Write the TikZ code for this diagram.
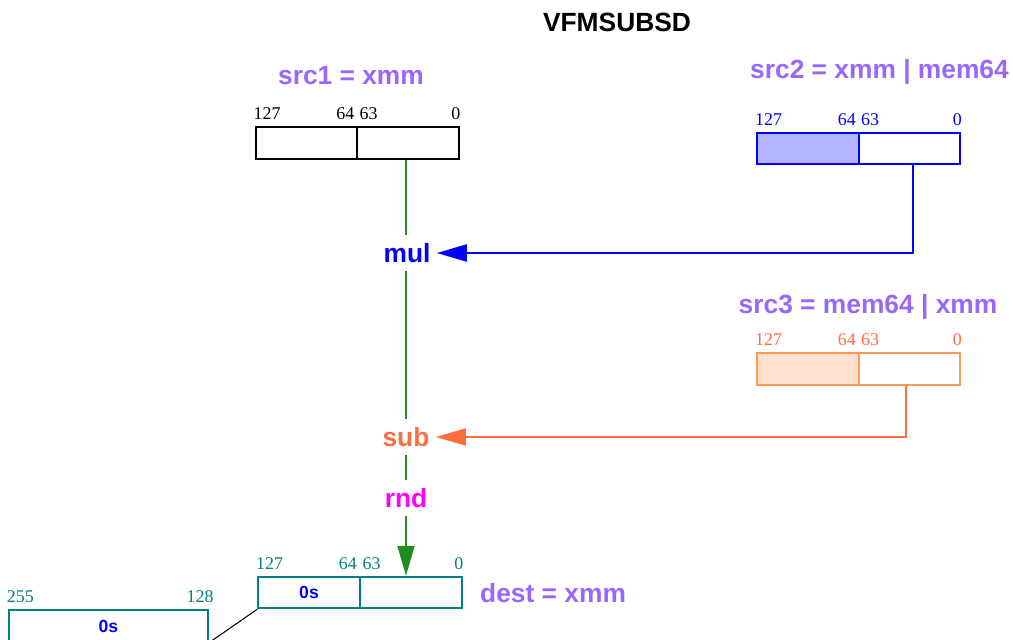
\documentclass[tikz,border=0pt]{standalone}
\usepackage{fontspec}
\setmainfont{Liberation Serif}
\setsansfont{Liberation Sans}
\usepackage{xcolor}
\usepackage{tikz}
\usetikzlibrary{arrows.meta, positioning}
\definecolor{softpurple}{HTML}{9966FF}
\definecolor{regblue}{HTML}{0000FF}
\definecolor{regbluefill}{HTML}{B3B3FF}
\definecolor{regorange}{HTML}{FF9955}
\definecolor{regorangefill}{HTML}{FFE0CC}
\definecolor{subcoral}{HTML}{FF6E40}
\definecolor{rndmagenta}{HTML}{FF00FF}
\definecolor{flowgreen}{HTML}{228B22}
\definecolor{destteal}{HTML}{008080}

\begin{document}
\begin{tikzpicture}[
x=0.02cm, y=-0.02cm,
every node/.style={font=\fontsize{15}{18}\selectfont\sffamily\bfseries},
arrow/.style={-{Triangle[length=0.6cm, width=0.34cm]}, line width=1.1pt}
]

% Define styles
\tikzstyle{half} = [rectangle, minimum width=2.03cm, minimum height=0.63cm, inner sep=0pt, line width=1.1pt]
\tikzstyle{wide} = [rectangle, minimum width=3.98cm, minimum height=0.63cm, inner sep=0pt, line width=1.1pt]
\tikzstyle{bit} = [font=\fontsize{10.2}{12}\selectfont\rmfamily\mdseries, inner xsep=0pt, inner ysep=0.12cm]
\tikzstyle{bitleft} = [bit, anchor=south west, xshift=-0.03cm]
\tikzstyle{bitmidl} = [bit, anchor=south east, xshift=-0.07cm]
\tikzstyle{bitmidr} = [bit, anchor=south west, xshift=0.06cm]
\tikzstyle{bitright} = [bit, anchor=south east, xshift=0.02cm]
\tikzstyle{op} = [inner xsep=0.12cm, inner ysep=0.15cm]
\tikzstyle{zeros} = [font=\fontsize{10}{12}\selectfont\sffamily\bfseries, text=regblue]

\useasboundingbox (0,0) rectangle (1013,639);
\clip (0,0) rectangle (1013,639);

% Nodes
\node (title) at (617,22) {VFMSUBSD};

\node (src1) [text=softpurple] at (351,76) {src1 = xmm};
\node (s1hi) [half, draw=black] at (306.5,143) {};
\node (s1lo) [half, draw=black] at (408,143) {};
\node [bitleft] at (s1hi.north west) {127};
\node [bitmidl] at (s1hi.north east) {64};
\node [bitmidr] at (s1lo.north west) {63};
\node [bitright] at (s1lo.north east) {0};

\node (src2) [text=softpurple] at (879.5,72) {src2 = xmm | mem64};
\node (s2hi) [half, draw=regblue, fill=regbluefill] at (808,148.5) {};
\node (s2lo) [half, draw=regblue] at (909.5,148.5) {};
\node [bitleft, text=regblue] at (s2hi.north west) {127};
\node [bitmidl, text=regblue] at (s2hi.north east) {64};
\node [bitmidr, text=regblue] at (s2lo.north west) {63};
\node [bitright, text=regblue] at (s2lo.north east) {0};

\node (src3) [text=softpurple] at (868,307) {src3 = mem64 | xmm};
\node (s3hi) [half, draw=regorange, fill=regorangefill] at (808,369) {};
\node (s3lo) [half, draw=regorange] at (909.5,369) {};
\node [bitleft, text=subcoral] at (s3hi.north west) {127};
\node [bitmidl, text=subcoral] at (s3hi.north east) {64};
\node [bitmidr, text=subcoral] at (s3lo.north west) {63};
\node [bitright, text=subcoral] at (s3lo.north east) {0};

\node (mul) [op, text=regblue] at (407,253) {mul};
\node (sub) [op, text=subcoral] at (406,437) {sub};
\node (rnd) [op, text=rndmagenta] at (406,498) {rnd};

\node (dhi) [half, draw=destteal] at (309,592.5) {};
\node (dlo) [half, draw=destteal] at (411,592.5) {};
\node [zeros] at (dhi) {0s};
\node [bitleft, text=destteal] at (dhi.north west) {127};
\node [bitmidl, text=destteal] at (dhi.north east) {64};
\node [bitmidr, text=destteal] at (dlo.north west) {63};
\node [bitright, text=destteal] at (dlo.north east) {0};
\node (dest) [text=softpurple, anchor=west] at (474,593) {dest = xmm};

\node (dup) [wide, draw=destteal] at (108.5,626) {};
\node [zeros] at (dup) {0s};
\node [bitleft, text=destteal] at (dup.north west) {255};
\node [bitright, text=destteal, xshift=0.08cm] at (dup.north east) {128};

% Arrows
\draw [flowgreen, line width=1.1pt] (sub |- s1lo.south) -- (sub |- mul.north);
\draw [flowgreen, line width=1.1pt] (sub |- mul.south) -- (sub);
\draw [flowgreen, line width=1.1pt] (sub) -- (rnd);
\draw [arrow, flowgreen] (rnd) -- (rnd |- dlo.north);
\draw [arrow, regblue] ([xshift=0.07cm]s2lo.south) |- (mul.east);
\draw [arrow, subcoral] ([xshift=-0.07cm]s3lo.south) |- (sub.east);
\draw [line width=0.6pt] (dhi.south west) -- (dup.south east);

\end{tikzpicture}
\end{document}
